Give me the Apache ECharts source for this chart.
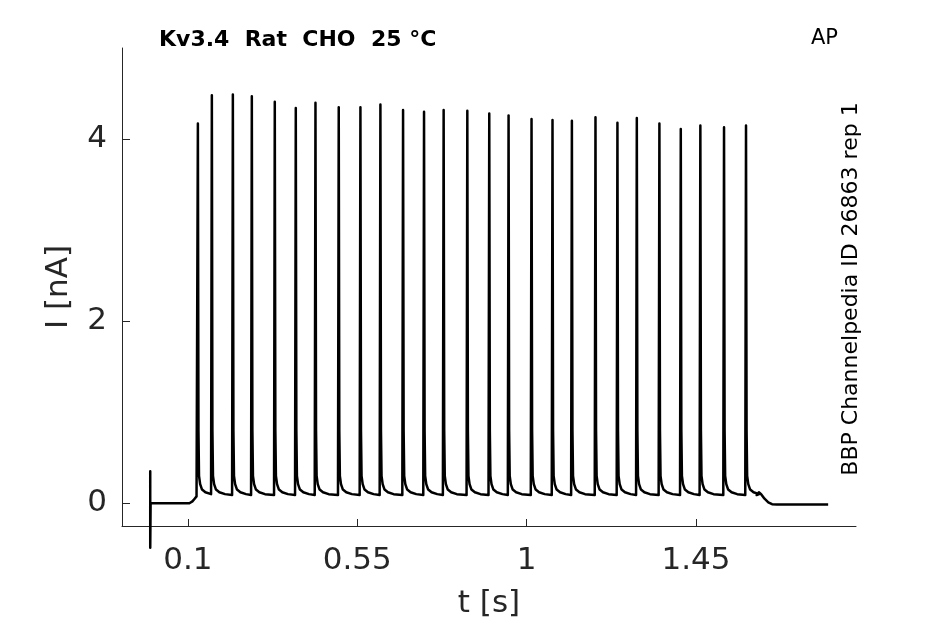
<!DOCTYPE html>
<html>
<head>
<meta charset="utf-8">
<script src="https://cdn.jsdelivr.net/npm/echarts@6/dist/echarts.min.js"></script>
<style>
html,body{margin:0;padding:0;background:#fff;}
#c{width:945px;height:624px;}
</style>
</head>
<body>
<div id="c"></div>
<script>
// ---- data ----
var xTicks = [0.1, 0.55, 1, 1.45];
var yTicks = [0, 2, 4];
// spike peak times (s) and peak currents (nA)
var spikeTimes = [0.1266,0.1637,0.2195,0.2699,0.3309,0.3867,0.4390,0.5008,0.5584,0.6115,
                  0.6717,0.7274,0.7795,0.8424,0.9007,0.9520,1.0130,1.0687,1.1202,1.1829,
                  1.2412,1.2927,1.3527,1.4095,1.4615,1.5244,1.5828];
var spikePeaks = [4.17,4.48,4.49,4.47,4.41,4.34,4.40,4.35,4.35,4.38,
                  4.32,4.30,4.32,4.31,4.28,4.26,4.22,4.21,4.20,4.24,
                  4.18,4.23,4.17,4.11,4.15,4.13,4.15];
// shape of one spike around its peak (time offsets s, current nA)
var riseDt = [-0.002];
var riseVal = [0.09];
var decayDt = [0.0015, 0.003, 0.006, 0.011, 0.02, 0.035];
var decayVal = [0.8, 0.30, 0.21, 0.15, 0.12, 0.10];
// start of trace: capacitive artefact and holding current, then onset of the step
var startT = [0, 0, 0, 0.001, 0.104, 0.112, 0.118, 0.123];
var startV = [0, 0.35, -0.49, 0, 0.0, 0.02, 0.05, 0.075];
// tail after last spike
var tailT = [1.611, 1.617, 1.623, 1.632, 1.642, 1.652, 1.665, 1.801];
var tailV = [0.09, 0.12, 0.10, 0.05, 0.01, -0.01, -0.015, -0.015];

// ---- build the trace from the arrays ----
var trace = [];
for (var i = 0; i < startT.length; i++) trace.push([startT[i], startV[i]]);
for (var s = 0; s < spikeTimes.length; s++) {
  var t0 = spikeTimes[s];
  for (var r = 0; r < riseDt.length; r++) {
    if (s > 0) trace.push([t0 + riseDt[r], riseVal[r]]);
  }
  trace.push([t0, spikePeaks[s]]);
  for (var d = 0; d < decayDt.length; d++) trace.push([t0 + decayDt[d], decayVal[d]]);
}
for (var k = 0; k < tailT.length; k++) trace.push([tailT[k], tailV[k]]);

var FONT = 'DejaVu Sans';
var AX = '#262626';
var chart = echarts.init(document.getElementById('c'), null, {renderer: 'canvas'});
chart.setOption({
  animation: false,
  backgroundColor: '#fff',
  grid: {left: 122, right: 89, top: 48, bottom: 98, containLabel: false},
  xAxis: {
    type: 'value', min: -0.075, max: 1.875,
    name: 't [s]', nameLocation: 'middle', nameGap: 62,
    nameTextStyle: {fontFamily: FONT, fontSize: 31, color: AX, lineHeight: 31},
    axisLine: {show: true, onZero: false, lineStyle: {color: AX, width: 1}},
    axisTick: {show: true, inside: true, length: 7, lineStyle: {color: AX}, customValues: xTicks},
    axisLabel: {fontFamily: FONT, fontSize: 31, color: AX, margin: 19, lineHeight: 31, customValues: xTicks},
    splitLine: {show: false}
  },
  yAxis: {
    type: 'value', min: -0.25, max: 5,
    name: 'I [nA]', nameLocation: 'middle', nameGap: 48, nameRotate: 90,
    nameTextStyle: {fontFamily: FONT, fontSize: 31, color: AX, lineHeight: 31},
    axisLine: {show: true, onZero: false, lineStyle: {color: AX, width: 1}},
    axisTick: {show: true, inside: true, length: 8, lineStyle: {color: AX}, customValues: yTicks},
    axisLabel: {fontFamily: FONT, fontSize: 31, color: AX, margin: 15, customValues: yTicks},
    splitLine: {show: false}
  },
  series: [{
    type: 'line', data: trace, showSymbol: false, clip: false,
    lineStyle: {color: '#000', width: 2.5, join: 'round'},
    silent: true
  }],
  graphic: [
    {type: 'text', x: 159, y: 40,
     style: {text: 'Kv3.4  Rat  CHO  25 \u00B0C', fontFamily: FONT, fontWeight: 'bold', fontSize: 22, fill: '#000',
             align: 'left', verticalAlign: 'middle'}},
    {type: 'text', x: 811, y: 39,
     style: {text: 'AP', fontFamily: FONT, fontSize: 21, fill: '#000', align: 'left', verticalAlign: 'middle'}},
    {type: 'text', x: 851, y: 289, rotation: Math.PI / 2,
     style: {text: 'BBP Channelpedia ID 26863 rep 1', fontFamily: FONT, fontSize: 22, fill: '#000',
             align: 'center', verticalAlign: 'middle'}}
  ]
});
</script>
</body>
</html>
